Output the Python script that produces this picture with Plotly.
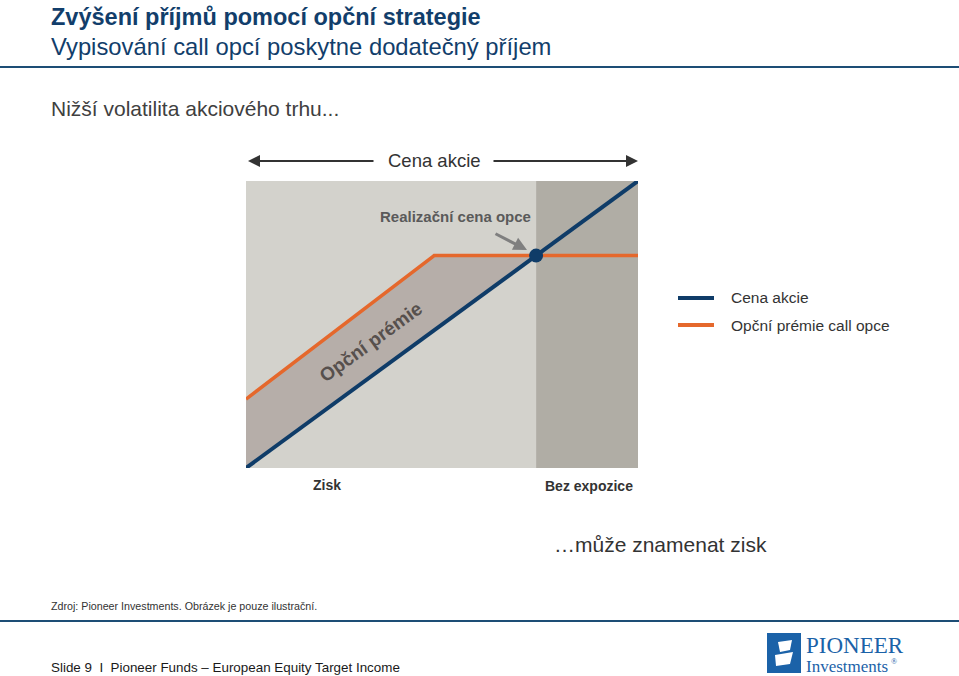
import plotly.graph_objects as go

# ---- data ----
price_x = [0, 100]
price_y = [0, 100]
premium_x = [0, 48, 74, 100]
premium_y = [24, 74, 74, 74]
strike = 74
legend_labels = ["Cena akcie", "Opční prémie call opce"]
region_labels = ["Zisk", "Bez expozice"]

W, H = 959, 676
BLUE = "#0f3c68"
ORANGE = "#e5682c"
FONT = "Liberation Sans, Arial, sans-serif"
SERIF = "Liberation Serif, Times New Roman, serif"

def px(x):
    return x / W

def py(y):
    return 1 - y / H

fig = go.Figure()

# band between premium and price
band_x = premium_x[:3] + [strike, price_x[0]]
band_y = premium_y[:3] + [strike, price_y[0]]
fig.add_trace(go.Scatter(x=band_x, y=band_y, fill="toself", fillcolor="#b6aea9",
                         line=dict(width=0), mode="lines", hoverinfo="skip", showlegend=False))
fig.add_trace(go.Scatter(x=premium_x, y=premium_y, mode="lines",
                         line=dict(color=ORANGE, width=3.5), showlegend=False, cliponaxis=False))
fig.add_trace(go.Scatter(x=price_x, y=price_y, mode="lines",
                         line=dict(color=BLUE, width=4), showlegend=False, cliponaxis=False))
fig.add_trace(go.Scatter(x=[strike], y=[strike], mode="markers",
                         marker=dict(color=BLUE, size=14), showlegend=False, cliponaxis=False))

shapes = [
    dict(type="rect", xref="x", yref="y", x0=0, x1=strike, y0=0, y1=100,
         fillcolor="#d3d2cc", line=dict(width=0), layer="below"),
    dict(type="rect", xref="x", yref="y", x0=strike, x1=100, y0=0, y1=100,
         fillcolor="#b0ada5", line=dict(width=0), layer="below"),
    # header rule
    dict(type="line", xref="paper", yref="paper", x0=0, x1=1, y0=py(67), y1=py(67),
         line=dict(color="#1d4d75", width=2)),
    # footer rule
    dict(type="line", xref="paper", yref="paper", x0=0, x1=1, y0=py(621), y1=py(621),
         line=dict(color="#1d4d75", width=2)),
    # legend lines
    dict(type="line", xref="paper", yref="paper", x0=px(678), x1=px(714), y0=py(298), y1=py(298),
         line=dict(color=BLUE, width=4)),
    dict(type="line", xref="paper", yref="paper", x0=px(678), x1=px(714), y0=py(325), y1=py(325),
         line=dict(color=ORANGE, width=4)),
    # logo box
    dict(type="rect", xref="paper", yref="paper", x0=px(767), x1=px(801), y0=py(673), y1=py(633),
         fillcolor="#1b62a8", line=dict(width=0)),
    dict(type="path", xref="paper", yref="paper",
         path=f"M {px(778)} {py(642)} L {px(792)} {py(640)} L {px(790)} {py(650)} L {px(780)} {py(652)} Z",
         fillcolor="white", line=dict(width=0)),
    dict(type="path", xref="paper", yref="paper",
         path=f"M {px(775)} {py(655)} L {px(793)} {py(652)} L {px(790)} {py(664)} L {px(776)} {py(666)} Z",
         fillcolor="white", line=dict(width=0)),
]

ann = []
def text(x, y, t, size, color="#333333", bold=False, xanchor="left", font=FONT, **kw):
    if bold:
        t = f"<b>{t}</b>"
    ann.append(dict(x=px(x), y=py(y), xref="paper", yref="paper", text=t, showarrow=False,
                    xanchor=xanchor, yanchor="middle", font=dict(size=size, color=color, family=font), **kw))

text(49, 17, "Zvýšení příjmů pomocí opční strategie", 23.5, color="#123e6b", bold=True)
text(49, 46, "Vypisování call opcí poskytne dodatečný příjem", 23.8, color="#123e6b")
text(49, 108, "Nižší volatilita akciového trhu...", 21, color="#404040")
text(434, 161, "Cena akcie", 18.5, color="#333333", xanchor="center")
text(455, 217, "Realizační cena opce", 15, color="#5a5a5a", bold=True, xanchor="center")
text(370, 342, "Opční prémie", 19, color="#57504d", bold=True, xanchor="center", textangle=-36)
text(327, 485, region_labels[0], 14, color="#333333", bold=True, xanchor="center")
text(589, 486, region_labels[1], 14, color="#333333", bold=True, xanchor="center")
text(729, 298, legend_labels[0], 15.5, color="#333333")
text(729, 325, legend_labels[1], 15.5, color="#333333")
text(552, 544, "…může znamenat zisk", 21, color="#333333")
text(49, 606, "Zdroj: Pioneer Investments. Obrázek je pouze ilustrační.", 10.7, color="#333333")
text(49, 667, "Slide 9  I  Pioneer Funds – European Equity Target Income", 13.4, color="#1a1a1a")
text(804, 645, "PIONEER", 23, color="#1b62a8", font=SERIF)
text(804, 666, "Investments", 17, color="#1b62a8", font=SERIF)
text(889, 661, "®", 8, color="#1b62a8", font=SERIF)

# arrows
def arrow(x0, y0, x1, y1, color, width, size=1):
    ann.append(dict(x=px(x1), y=py(y1), xref="paper", yref="paper", ax=x0 - x1, ay=y0 - y1,
                    axref="pixel", ayref="pixel", text="", showarrow=True, arrowhead=2,
                    arrowsize=size, arrowwidth=width, arrowcolor=color))

arrow(375, 161, 248, 161, "#333333", 2, 1.2)
arrow(492, 161, 638, 161, "#333333", 2, 1.2)
arrow(494, 233, 527, 250, "#7f7f7f", 3, 0.9)

fig.update_layout(
    width=W, height=H, margin=dict(l=0, r=0, t=0, b=0),
    paper_bgcolor="white", plot_bgcolor="white",
    xaxis=dict(domain=[px(246), px(638)], range=[0, 100], visible=False, fixedrange=True),
    yaxis=dict(domain=[py(468), py(181)], range=[0, 100], visible=False, fixedrange=True),
    shapes=shapes, annotations=ann, showlegend=False,
)

fig.write_html("out.html")
